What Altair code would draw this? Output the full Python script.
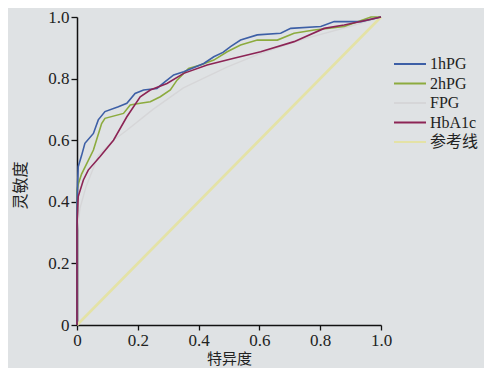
import altair as alt
import pandas as pd

# ROC curve points (x axis labelled 特异度, y axis 灵敏度)
hpg1_x = [0, 0, 0.002, 0.004, 0.015, 0.026, 0.054, 0.07, 0.092, 0.136, 0.164, 0.191, 0.219, 0.263, 0.29, 0.318,
          0.351, 0.417, 0.45, 0.48, 0.505, 0.538, 0.593, 0.67, 0.703, 0.802, 0.846, 0.934, 1.0]
hpg1_y = [0, 0.40, 0.46, 0.514, 0.55, 0.59, 0.622, 0.666, 0.693, 0.709, 0.72, 0.752, 0.763, 0.768, 0.79, 0.812,
          0.822, 0.849, 0.871, 0.885, 0.904, 0.925, 0.942, 0.947, 0.963, 0.969, 0.985, 0.985, 1.0]

hpg2_x = [0, 0, 0.005, 0.015, 0.032, 0.054, 0.081, 0.092, 0.153, 0.175, 0.208, 0.241, 0.274, 0.307, 0.329, 0.367,
          0.406, 0.45, 0.494, 0.538, 0.593, 0.659, 0.714, 0.78, 0.879, 0.967, 1.0]
hpg2_y = [0, 0.44, 0.46, 0.49, 0.524, 0.568, 0.654, 0.671, 0.687, 0.714, 0.72, 0.725, 0.741, 0.763, 0.795, 0.833,
          0.844, 0.86, 0.887, 0.909, 0.925, 0.925, 0.947, 0.958, 0.969, 1.0, 1.0]

fpg_x = [0, 0, 0.01, 0.03, 0.07, 0.12, 0.165, 0.25, 0.35, 0.495, 0.6, 0.75, 0.9, 1.0]
fpg_y = [0, 0.30, 0.38, 0.45, 0.55, 0.60, 0.633, 0.70, 0.77, 0.838, 0.88, 0.93, 0.97, 1.0]

hba_x = [0, 0, 0.002, 0.004, 0.021, 0.037, 0.076, 0.12, 0.164, 0.208, 0.241, 0.296, 0.351, 0.428, 0.516, 0.604,
         0.714, 0.813, 0.879, 0.956, 1.0]
hba_y = [0, 0.32, 0.38, 0.417, 0.471, 0.503, 0.547, 0.60, 0.676, 0.741, 0.763, 0.784, 0.817, 0.844, 0.866, 0.887,
         0.92, 0.963, 0.974, 0.99, 1.0]

ref_x = [0, 1.0]
ref_y = [0, 1.0]

legend_order = ["1hPG", "2hPG", "FPG", "HbA1c", "参考线"]
colors = ["#3d5fa6", "#8cab3e", "#d6d6d8", "#8c2455", "#e4e2a6"]
widths = {"1hPG": 1.6, "2hPG": 1.6, "FPG": 1.4, "HbA1c": 1.6, "参考线": 2.6}

series = [("参考线", ref_x, ref_y), ("FPG", fpg_x, fpg_y), ("2hPG", hpg2_x, hpg2_y),
          ("1hPG", hpg1_x, hpg1_y), ("HbA1c", hba_x, hba_y)]
rows = []
for name, xs, ys in series:
    for i, (x, y) in enumerate(zip(xs, ys)):
        rows.append({"series": name, "x": x, "y": y, "idx": i, "w": widths[name]})
df = pd.DataFrame(rows)

serif = "Liberation Serif, Noto Sans CJK SC"
cjk = "Noto Sans CJK SC"
lab = "datum.value == 0 ? '0' : format(datum.value, '.1f')"

chart = alt.Chart(df).mark_line().encode(
    x=alt.X("x:Q", scale=alt.Scale(domain=[0, 1], nice=False),
            axis=alt.Axis(title="特异度", values=[0, 0.2, 0.4, 0.6, 0.8, 1.0], labelExpr=lab,
                          titleFont=cjk, titleFontSize=15, titleFontWeight="normal", titleColor="#222",
                          titleX=152, titleY=33, titleBaseline="middle",
                          labelFont=serif, labelFontSize=17, labelColor="#222", labelPadding=2,
                          tickSize=5, tickColor="#111", domainColor="#111", domainWidth=1.5,
                          tickWidth=1.3, grid=False, labelFlush=False)),
    y=alt.Y("y:Q", scale=alt.Scale(domain=[0, 1], nice=False),
            axis=alt.Axis(title="灵敏度", values=[0, 0.2, 0.4, 0.6, 0.8, 1.0], labelExpr=lab,
                          titleFont=cjk, titleFontSize=16, titleFontWeight="normal", titleColor="#222",
                          titleX=-57, titleY=168, titleBaseline="middle", titleAlign="center",
                          labelFont=serif, labelFontSize=17, labelColor="#222", labelPadding=2,
                          tickSize=6, tickColor="#111", domainColor="#111", domainWidth=1.5,
                          tickWidth=1.3, grid=False, labelFlush=False)),
    color=alt.Color("series:N", scale=alt.Scale(domain=legend_order, range=colors),
                    legend=alt.Legend(title=None, orient="none", legendX=324, legendY=38,
                                      symbolType="M-2,0H2", symbolSize=256, symbolStrokeWidth=2,
                                      symbolFillColor="transparent", labelOffset=11,
                                      labelFont=serif, labelFontSize=16, labelColor="#222",
                                      rowPadding=2.5, padding=0)),
    strokeWidth=alt.StrokeWidth("w:Q", scale=None, legend=None),
    order="idx:Q",
).properties(
    width=304, height=308,
    padding={"left": 69, "top": 9, "right": 103, "bottom": 43},
    autosize=alt.AutoSizeParams(type="none"),
    background="#dfe2e4",
).configure_view(stroke=None)

chart.save("out.html", embed_options={"renderer": "svg", "actions": False})
